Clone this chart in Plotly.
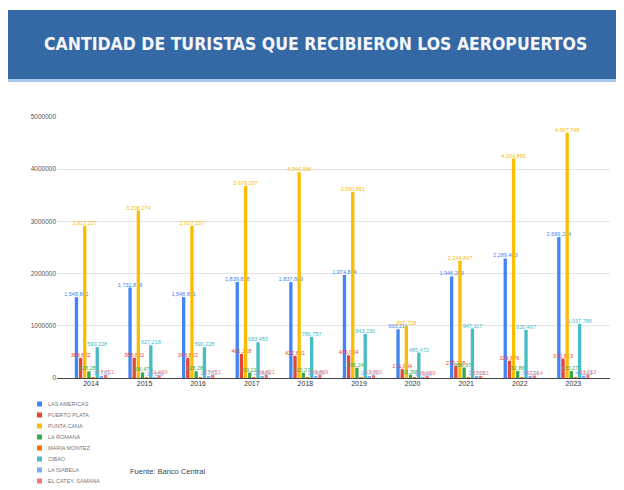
import plotly.graph_objects as go

# ---------------- data ----------------
YEARS = ["2014", "2015", "2016", "2017", "2018", "2019", "2020", "2021", "2022", "2023"]

LAS_AMERICAS = [1548861, 1732879, 1548861, 1839828, 1837869, 1974844, 933211, 1946263, 2289403, 2699224]
PUERTO_PLATA = [383822, 385822, 383822, 461218, 422631, 435004, 171084, 235225, 329876, 370823]
PUNTA_CANA = [2917237, 3208274, 2917237, 3679207, 3944336, 3560861, 997728, 2244847, 4204856, 4697748]
LA_ROMANA = [128285, 106473, 128285, 103213, 100271, 196243, 65395, 199377, 132867, 133277]
MARIA_MONTEZ = [1200, 900, 1200, 1500, 1100, 1300, 400, 800, 1000, 1100]
CIBAO = [590228, 627218, 590228, 683455, 786757, 843230, 485472, 947117, 920497, 1037786]
LA_ISABELA = [21751, 18659, 21751, 20801, 19809, 23700, 12099, 27261, 37214, 43213]
EL_CATEY = [57751, 51659, 57751, 60801, 59809, 53700, 26099, 37261, 47214, 63213]

SERIES_NAMES = ["LAS AMERICAS", "PUERTO PLATA", "PUNTA CANA", "LA ROMANA",
                "MARIA MONTEZ", "CIBAO", "LA ISABELA", "EL CATEY, SAMANA"]
SERIES_VALUES = [LAS_AMERICAS, PUERTO_PLATA, PUNTA_CANA, LA_ROMANA,
                 MARIA_MONTEZ, CIBAO, LA_ISABELA, EL_CATEY]
SHOW_LABELS = [True, True, True, True, False, True, True, True]

Y_TICKS = [0, 1000000, 2000000, 3000000, 4000000, 5000000]
Y_TICK_TEXT = ["0", "1000000", "2000000", "3000000", "4000000", "5000000"]

TITLE = "CANTIDAD DE TURISTAS QUE RECIBIERON LOS AEROPUERTOS"
SOURCE = "Fuente: Banco Central"

# ---------------- style ----------------
COLORS = ["#4285F4", "#EA4335", "#FBBC04", "#34A853",
          "#FF6D01", "#46BDC6", "#7BAAF7", "#F07B72"]

OFF = 8                      # page body margin
W, H = 624 - OFF, 490 - OFF  # figure size
# plot area in page pixels: x 57..610, y 117..378
L, R = 57 - OFF, 624 - 610
T, B = 117 - OFF, 490 - 378
PW = W - L - R
PH = H - T - B


def px2x(px):
    return (px - OFF - L) / PW


def py2y(py):
    return (H - B - (py - OFF)) / PH


fig = go.Figure()

for name, vals, col, lab in zip(SERIES_NAMES, SERIES_VALUES, COLORS, SHOW_LABELS):
    fig.add_trace(go.Bar(
        x=YEARS, y=vals, name=name,
        marker=dict(color=col, line=dict(width=0)),
        texttemplate="%{y:,.0f}" if lab else None,
        textposition="outside" if lab else "none",
        textfont=dict(size=5.5, color=col, family="Liberation Sans, Arial"),
        constraintext="none",
        cliponaxis=False,
        showlegend=False,
        hoverinfo="x+y+name",
    ))

shapes = []
annotations = []

# title banner
shapes.append(dict(type="rect", xref="paper", yref="paper",
                   x0=px2x(8), x1=px2x(630), y0=py2y(79), y1=py2y(10),
                   fillcolor="#3569A6", line=dict(width=0), layer="below"))
shapes.append(dict(type="rect", xref="paper", yref="paper",
                   x0=px2x(8), x1=px2x(630), y0=py2y(82), y1=py2y(79),
                   fillcolor="#A9C9EC", line=dict(width=0), layer="below"))
annotations.append(dict(text="<b>" + TITLE + "</b>", xref="paper", yref="paper",
                        x=px2x(315), y=py2y(44), xanchor="center", yanchor="middle",
                        showarrow=False,
                        font=dict(family="DejaVu Sans Condensed, DejaVu Sans",
                                  size=17.5, color="#F4F6FA")))

# manual legend
leg_y = [404, 415, 426, 437, 448, 459, 470, 481]
for name, col, yy in zip(SERIES_NAMES, COLORS, leg_y):
    shapes.append(dict(type="rect", xref="paper", yref="paper",
                       x0=px2x(37), x1=px2x(42), y0=py2y(yy + 2.5), y1=py2y(yy - 2.5),
                       fillcolor=col, line=dict(width=0)))
    annotations.append(dict(text=name, xref="paper", yref="paper",
                            x=px2x(46), y=py2y(yy), xanchor="left", yanchor="middle",
                            showarrow=False,
                            font=dict(size=5.5, color="#777777", family="Liberation Sans, Arial")))

annotations.append(dict(text=SOURCE, xref="paper", yref="paper",
                        x=px2x(128), y=py2y(471), xanchor="left", yanchor="middle",
                        showarrow=False,
                        font=dict(size=7.5, color="#444444", family="Liberation Sans, Arial")))

fig.update_layout(
    width=W, height=H,
    margin=dict(l=L, r=R, t=T, b=B, pad=0),
    paper_bgcolor="white", plot_bgcolor="white",
    barmode="group", bargap=0.38, bargroupgap=0.2,
    shapes=shapes, annotations=annotations,
    font=dict(family="Liberation Sans, Arial", color="#444444"),
    xaxis=dict(type="category", range=[-0.634, 9.683], showgrid=False,
               showline=False, ticks="", tickfont=dict(size=7, color="#333333"),
               fixedrange=True),
    yaxis=dict(range=[0, 5000000], tickvals=Y_TICKS, ticktext=Y_TICK_TEXT,
               showgrid=True, gridcolor="#E3E3E3", gridwidth=1,
               zeroline=True, zerolinecolor="#444444", zerolinewidth=1,
               showline=False, ticks="", tickfont=dict(size=6.5, color="#555555"),
               fixedrange=True),
)

fig.write_html("out.html")
